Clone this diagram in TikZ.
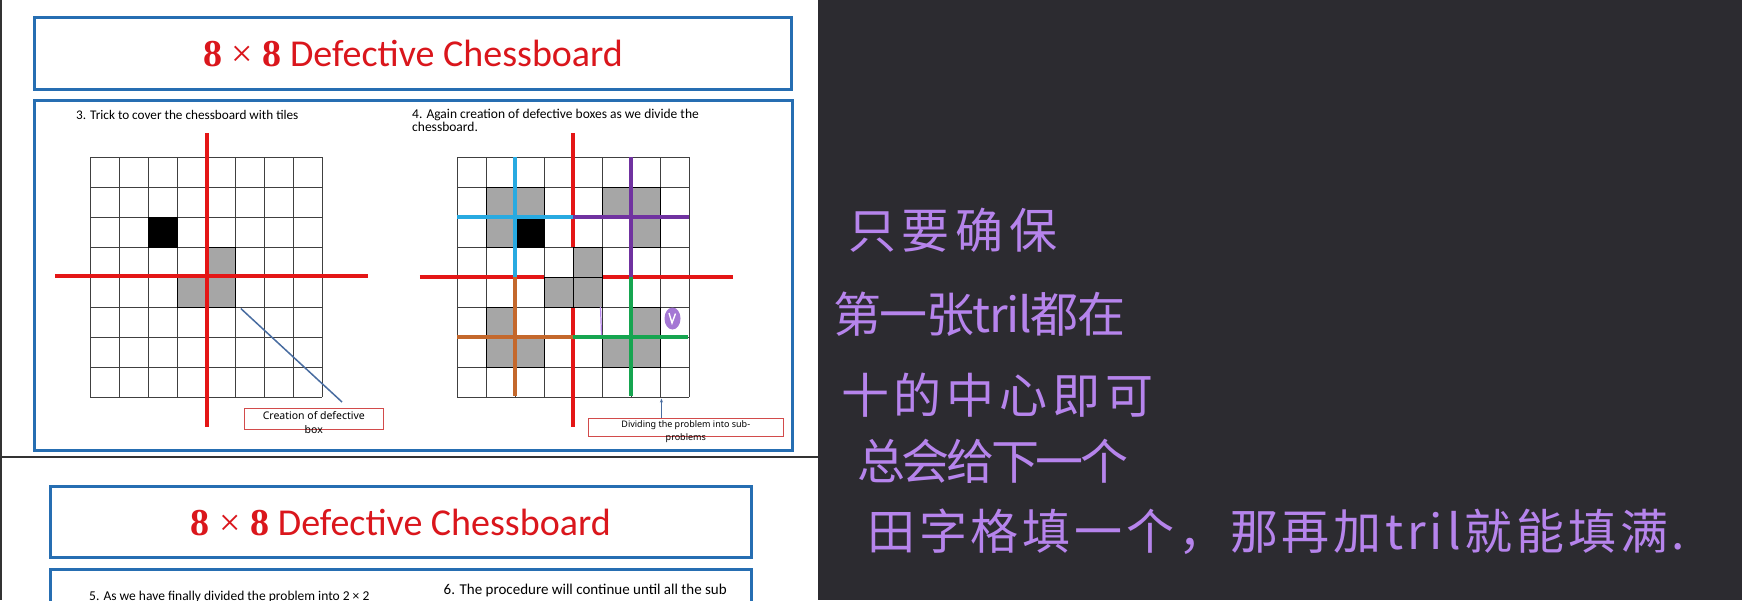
\documentclass[tikz,border=0pt]{standalone}
\usepackage{fontspec}
\setmainfont{Carlito}
\newfontfamily\numfont{Liberation Serif}
\newfontfamily\notefont{Noto Sans}
\newfontfamily\cjkhand{Noto Sans CJK SC}
\usepackage{xcolor}
\definecolor{slideblue}{RGB}{38,110,178}
\definecolor{titlered}{RGB}{218,22,28}
\definecolor{crossred}{RGB}{228,22,22}
\definecolor{tilegray}{RGB}{166,166,166}
\definecolor{boxred}{RGB}{210,75,75}
\definecolor{arrowblue}{RGB}{72,108,160}
\definecolor{qcyan}{RGB}{40,170,225}
\definecolor{qpurple}{RGB}{112,50,160}
\definecolor{qorange}{RGB}{196,104,44}
\definecolor{qgreen}{RGB}{22,165,80}
\definecolor{inkpurple}{RGB}{182,132,236}
\definecolor{panelgray}{RGB}{44,43,48}
\usetikzlibrary{arrows.meta,positioning,calc}

\begin{document}
\begin{tikzpicture}[x=1pt, y=-1pt,
  titlebox/.style={draw=slideblue, line width=3pt, minimum height=72pt,
                   inner sep=0pt, text=titlered, font=\fontsize{38}{42}\selectfont},
  slidebox/.style={draw=slideblue, line width=3pt},
  note/.style={anchor=west, inner sep=0pt, font=\fontsize{13.2}{13.3}\selectfont},
  capbox/.style={draw=boxred, line width=0.9pt, inner sep=0pt},
  captext/.style={anchor=north, align=center, inner sep=0pt},
  gridline/.style={draw=black!75, line width=1pt},
  tile/.style={fill=tilegray, draw=black, line width=1pt},
  hole/.style={fill=black, draw=black, line width=1pt},
  redcut/.style={draw=crossred, line width=4pt},
  quadcut/.style={line width=3.5pt},
  pointer/.style={draw=arrowblue, line width=1.5pt},
  hand/.style={anchor=west, inner sep=0pt, text=inkpurple,
               font=\cjkhand\fontsize{48}{50}\selectfont}
]
  \useasboundingbox (0,0) rectangle (1742,600);
  \clip (0,0) rectangle (1742,600);
  \fill[white] (0,0) rectangle (818,600);
  \fill[panelgray] (818,0) rectangle (1742,600);
  \draw[black!80, line width=1.5pt] (1,0) -- (1,600);
  \draw[black!80, line width=2pt] (0,457) -- (818,457);

  % first slide
  \node[titlebox, minimum width=757pt] (hdrA) at (413,53)
    {{\numfont\textbf{8} × \textbf{8}} Defective Chessboard};
  \draw[slidebox] (34,100.5) rectangle (792.5,450.2);
  \node[note] (stepA) at (76,115) {3. Trick to cover the chessboard with tiles};
  \node[note, anchor=north west, align=left, font=\fontsize{13.5}{13.3}\selectfont]
    (stepB) at (412,108.5)
    {4. Again creation of defective boxes as we divide the\\chessboard.};

  % left board
  \begin{scope}[shift={(90,157)}, x=29pt, y=-30pt]
    \foreach \i in {0,...,8} {
      \draw[gridline] (\i,0) -- (\i,8);
      \draw[gridline] (0,\i) -- (8,\i);
    }
    \draw[hole] (2,2) rectangle (3,3);
    \draw[tile] (4,3) rectangle (5,4) (3,4) rectangle (4,5) (4,4) rectangle (5,5);
    \draw[redcut] (4.05,-0.8) -- (4.05,9);
    \draw[redcut] (-1.2,3.98) -- (9.6,3.98);
    \coordinate (tilecorner) at (5.2,5.05);
  \end{scope}

  \node[capbox, minimum width=139pt, minimum height=20.7pt] (defbox) at (313.8,418.6) {};
  \node[captext, font=\notefont\fontsize{10.5}{14}\selectfont]
    at ([yshift=-3pt]defbox.north) {Creation of defective\\box};
  \coordinate (defptr) at (342,402);
  \draw[pointer] (tilecorner) -- (defptr);

  % right board
  \begin{scope}[shift={(457,157)}, x=29pt, y=-30pt]
    \foreach \i in {0,...,8} {
      \draw[gridline] (\i,0) -- (\i,8);
      \draw[gridline] (0,\i) -- (8,\i);
    }
    \draw[redcut] (4,-0.8) -- (4,3);
    \draw[redcut] (4,5) -- (4,9);
    \draw[redcut] (-1.28,4) -- (3,4);
    \draw[redcut] (5,4) -- (9.5,4);
    \draw[tile] (1,1) rectangle (2,2) (2,1) rectangle (3,2) (1,2) rectangle (2,3);
    \draw[hole] (2,2) rectangle (3,3);
    \draw[tile] (5,1) rectangle (6,2) (6,1) rectangle (7,2) (6,2) rectangle (7,3);
    \draw[tile] (4,3) rectangle (5,4) (3,4) rectangle (4,5) (4,4) rectangle (5,5);
    \draw[tile] (1,5) rectangle (2,6) (1,6) rectangle (2,7) (2,6) rectangle (3,7);
    \draw[tile] (6,5) rectangle (7,6) (5,6) rectangle (6,7) (6,6) rectangle (7,7);
    \draw[quadcut, qcyan] (2,0) -- (2,4) (0,2) -- (4,2);
    \draw[quadcut, qpurple] (6,0) -- (6,4) (4,2) -- (8,2);
    \draw[quadcut, qorange] (2,4) -- (2,7.95) (0,6) -- (4,6);
    \draw[quadcut, qgreen] (6,4) -- (6,7.95) (4,6) -- (7.95,6);
    \coordinate (divtip) at (7.05,8.05);
  \end{scope}
  % stray pen marks
  \draw[inkpurple, line width=1.2pt] (600.5,307) -- (601.5,335);
  \fill[inkpurple!90!black] (672.5,318.5) ellipse (8pt and 11pt);
  \draw[white, line width=1.4pt] (669,313) -- (672,323) -- (675.5,313.5);

  \node[capbox, minimum width=195pt, minimum height=18.4pt] (divbox) at (685.8,427.5) {};
  \node[captext, font=\notefont\fontsize{9}{12.3}\selectfont]
    at ([yshift=-3pt]divbox.north) {Dividing the problem into sub-\\problems};
  \draw[pointer, line width=1pt, -{Stealth[length=4pt]}] (divbox.north -| divtip) -- (divtip);

  % second slide
  \node[titlebox, minimum width=701.5pt, minimum height=71pt] (hdrB) at (400.8,522)
    {{\numfont\textbf{8} × \textbf{8}} Defective Chessboard};
  \draw[slidebox] (50,569.5) rectangle (751.5,640);
  \node[note, font=\fontsize{13.5}{15}\selectfont] (stepC) at (89,597)
    {5. As we have finally divided the problem into 2 × 2};
  \node[note, font=\fontsize{15}{17}\selectfont] (stepD) at (443.5,590)
    {6. The procedure will continue until all the sub};

  % handwritten notes
  \node[hand] (lineA) at (848,230) {\addfontfeatures{LetterSpace=12}只要确保};
  \node[hand] (lineB) at (833,314) {\addfontfeatures{LetterSpace=-3}第一张tril都在};
  \node[hand] (lineC) at (841,395) {\addfontfeatures{LetterSpace=10}十的中心即可};
  \node[hand] (lineD) at (857,461) {\addfontfeatures{LetterSpace=-7}总会给下一个};
  \node[hand] (lineE) at (867,532) {\addfontfeatures{LetterSpace=8}田字格填一个，那再加tril就能填满.};
\end{tikzpicture}
\end{document}
